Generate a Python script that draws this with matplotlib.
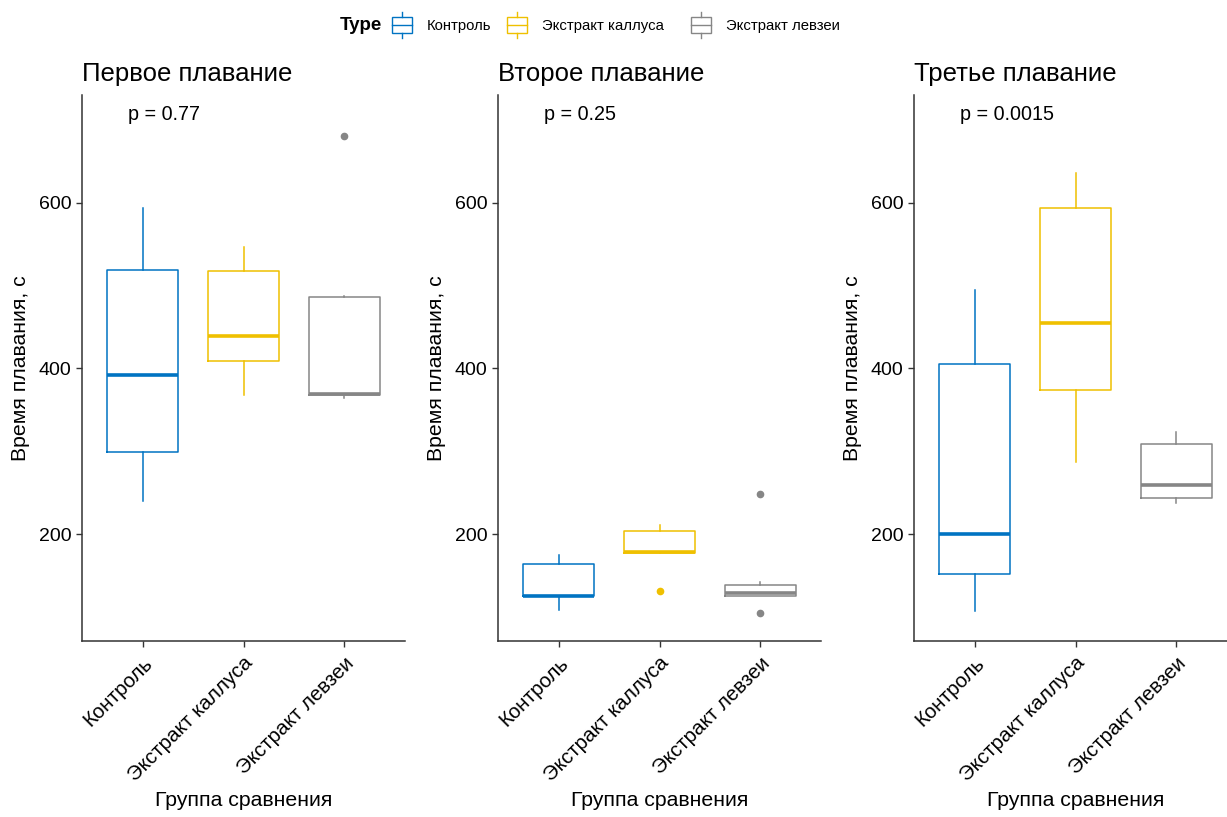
import matplotlib
matplotlib.use("Agg")
import matplotlib.pyplot as plt
from matplotlib.patches import Rectangle
from matplotlib.lines import Line2D
from matplotlib.legend_handler import HandlerBase

plt.rcParams['font.family'] = ['Liberation Sans', 'DejaVu Sans']

# ---- data ----
groups = ["Контроль", "Экстракт каллуса", "Экстракт левзеи"]
colors = ["#0073C2", "#EFC000", "#868686"]
titles = ["Первое плавание", "Второе плавание", "Третье плавание"]
pvalues = ["p = 0.77", "p = 0.25", "p = 0.0015"]

# per panel, per group: whisker low, Q1, median, Q3, whisker high
swim1_low = [240, 368, 364]
swim1_q1 = [299, 409, 368]
swim1_med = [392, 439, 369]
swim1_q3 = [519, 517, 486]
swim1_high = [594, 547, 488]
swim1_out = [[], [], [680]]

swim2_low = [109, 178, 125]
swim2_q1 = [125, 177, 125]
swim2_med = [125, 178, 129]
swim2_q3 = [164, 204, 138]
swim2_high = [175, 211, 142]
swim2_out = [[], [131], [248, 105]]

swim3_low = [107, 287, 237]
swim3_q1 = [152, 374, 244]
swim3_med = [200, 455, 259]
swim3_q3 = [405, 594, 309]
swim3_high = [495, 636, 323]
swim3_out = [[], [], []]

panels = [
    (swim1_low, swim1_q1, swim1_med, swim1_q3, swim1_high, swim1_out),
    (swim2_low, swim2_q1, swim2_med, swim2_q3, swim2_high, swim2_out),
    (swim3_low, swim3_q1, swim3_med, swim3_q3, swim3_high, swim3_out),
]
yticks = [200, 400, 600]

W, H = 1227, 817
fig = plt.figure(figsize=(W / 100, H / 100), dpi=100)

lefts = [82, 498, 914]
ax_w, ax_top, ax_bot = 323, 95, 641

for i, (lo, q1, med, q3, hi, outs) in enumerate(panels):
    ax = fig.add_axes([lefts[i] / W, (H - ax_bot) / H, ax_w / W, (ax_bot - ax_top) / H])
    for j in range(3):
        st = dict(whislo=lo[j], q1=q1[j], med=med[j], q3=q3[j], whishi=hi[j],
                  fliers=outs[j], label=groups[j])
        c = colors[j]
        ax.bxp([st], positions=[j + 1], widths=0.7, showcaps=False,
               boxprops=dict(color=c, lw=1.1),
               whiskerprops=dict(color=c, lw=1.1),
               medianprops=dict(color=c, lw=2.6, solid_capstyle='butt'),
               flierprops=dict(marker='o', markerfacecolor=c, markeredgecolor=c,
                               markersize=4.5))
    ax.set_xlim(0.4, 3.6)
    ax.set_ylim(71, 730)
    ax.set_xticks([1, 2, 3])
    ax.set_xticklabels(groups, rotation=45, ha='right', va='top',
                       rotation_mode='anchor', fontsize=14.8)
    ax.set_yticks(yticks)
    ax.set_yticklabels([str(v) for v in yticks], fontsize=14)
    ax.tick_params(axis='both', direction='out', length=4, width=1, color='#333333',
                   labelcolor='black')
    ax.tick_params(axis='x', pad=5)
    for s in ['top', 'right']:
        ax.spines[s].set_visible(False)
    for s in ['left', 'bottom']:
        ax.spines[s].set_linewidth(1.1)
        ax.spines[s].set_color('#333333')
    ax.set_xlabel("Группа сравнения", fontsize=15.3, labelpad=4)
    ax.set_ylabel("Время плавания, с", fontsize=15.3, labelpad=6)
    ax.set_title(titles[i], loc='left', fontsize=18.5, pad=10)
    ax.text(0.86, 707, pvalues[i], ha='left', va='center', fontsize=14.2)


class BoxHandler(HandlerBase):
    def create_artists(self, legend, orig_handle, xdescent, ydescent, width, height,
                       fontsize, trans):
        c = orig_handle.get_color()
        x0, y0 = -xdescent, -ydescent
        rect = Rectangle((x0, y0), width, height, facecolor='white', edgecolor=c,
                         lw=1, transform=trans)
        mid = Line2D([x0, x0 + width], [y0 + height / 2] * 2, color=c, lw=1,
                     transform=trans)
        wt = Line2D([x0 + width / 2] * 2, [y0 + height, y0 + height * 1.3], color=c,
                    lw=1, transform=trans)
        wb = Line2D([x0 + width / 2] * 2, [y0, y0 - height * 0.3], color=c, lw=1,
                    transform=trans)
        return [rect, mid, wt, wb]


fig.text(340 / W, 1 - 25 / H, "Type", fontsize=13.5, fontweight='bold', ha='left',
         va='center')
legend_x = [392, 507, 691]
for c, g, lx in zip(colors, groups, legend_x):
    h = Line2D([], [], color=c)
    fig.legend([h], [g], handler_map={Line2D: BoxHandler()},
               loc='center left', bbox_to_anchor=(lx / W, 1 - 25 / H), frameon=False,
               fontsize=10.7, handlelength=1.35, handleheight=1.3, handletextpad=1.0,
               borderpad=0, borderaxespad=0)

fig.savefig("out.png", dpi=100)
